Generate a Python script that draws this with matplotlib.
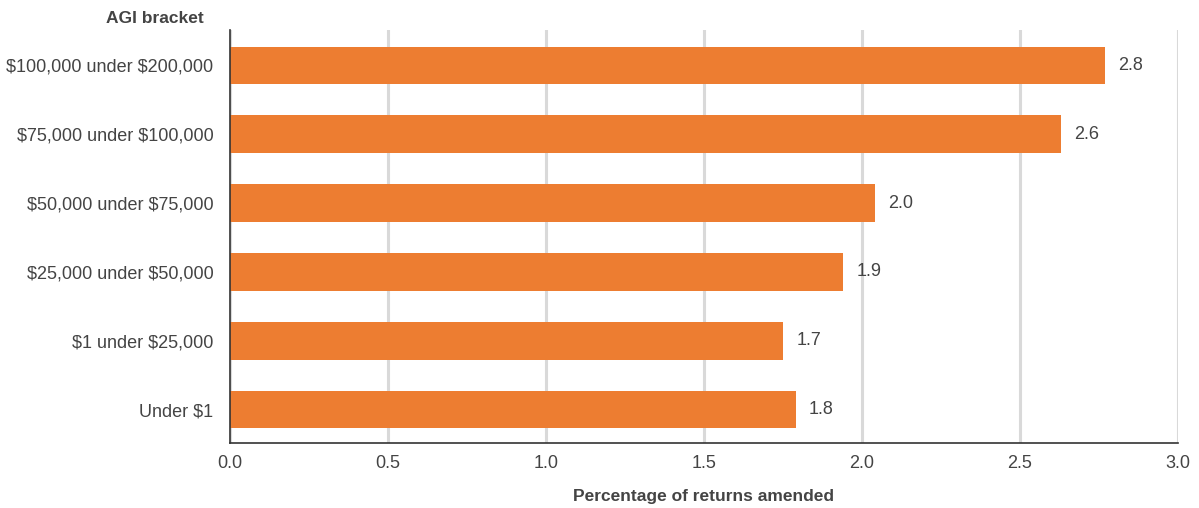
import matplotlib.pyplot as plt

brackets = ['Under $1', '$1 under $25,000', '$25,000 under $50,000',
            '$50,000 under $75,000', '$75,000 under $100,000', '$100,000 under $200,000']
values = [1.79, 1.75, 1.94, 2.04, 2.63, 2.77]
labels = ['1.8', '1.7', '1.9', '2.0', '2.6', '2.8']
xticks = [0.0, 0.5, 1.0, 1.5, 2.0, 2.5, 3.0]

plt.rcParams['font.family'] = ['Liberation Sans', 'DejaVu Sans']
plt.rcParams['text.parse_math'] = False
text_color = '#444444'

fig = plt.figure(figsize=(11.99, 5.08), dpi=100)
ax = fig.add_axes([0.1918, 0.128, 0.7907, 0.813])

ax.barh(range(len(brackets)), values, height=0.54, color='#ED7D31', zorder=3)
for i, (v, lab) in enumerate(zip(values, labels)):
    ax.text(v + 0.042, i, lab, va='center', ha='left', fontsize=13, color=text_color)

ax.set_xlim(0, 3.0)
ax.set_ylim(-0.48, 5.51)
ax.set_xticks(xticks)
ax.set_xticklabels([f'{t:.1f}' for t in xticks])
ax.set_yticks(range(len(brackets)))
ax.set_yticklabels(brackets)
ax.tick_params(axis='both', length=0, labelsize=13, colors=text_color)
ax.tick_params(axis='x', pad=9)
ax.tick_params(axis='y', pad=12)

ax.grid(axis='x', color='#d9d9d9', linewidth=2.2, zorder=0)
for s in ['top', 'right']:
    ax.spines[s].set_visible(False)
for s in ['left', 'bottom']:
    ax.spines[s].set_color('#333333')
    ax.spines[s].set_linewidth(1.2)
    ax.spines[s].set_zorder(4)

ax.set_xlabel('Percentage of returns amended', fontsize=12.5, fontweight='bold',
              color=text_color, labelpad=12)
fig.text(0.129, 0.963, 'AGI bracket', fontsize=12.5, fontweight='bold',
         color=text_color, ha='center', va='center')

fig.savefig('out.png', dpi=100)
